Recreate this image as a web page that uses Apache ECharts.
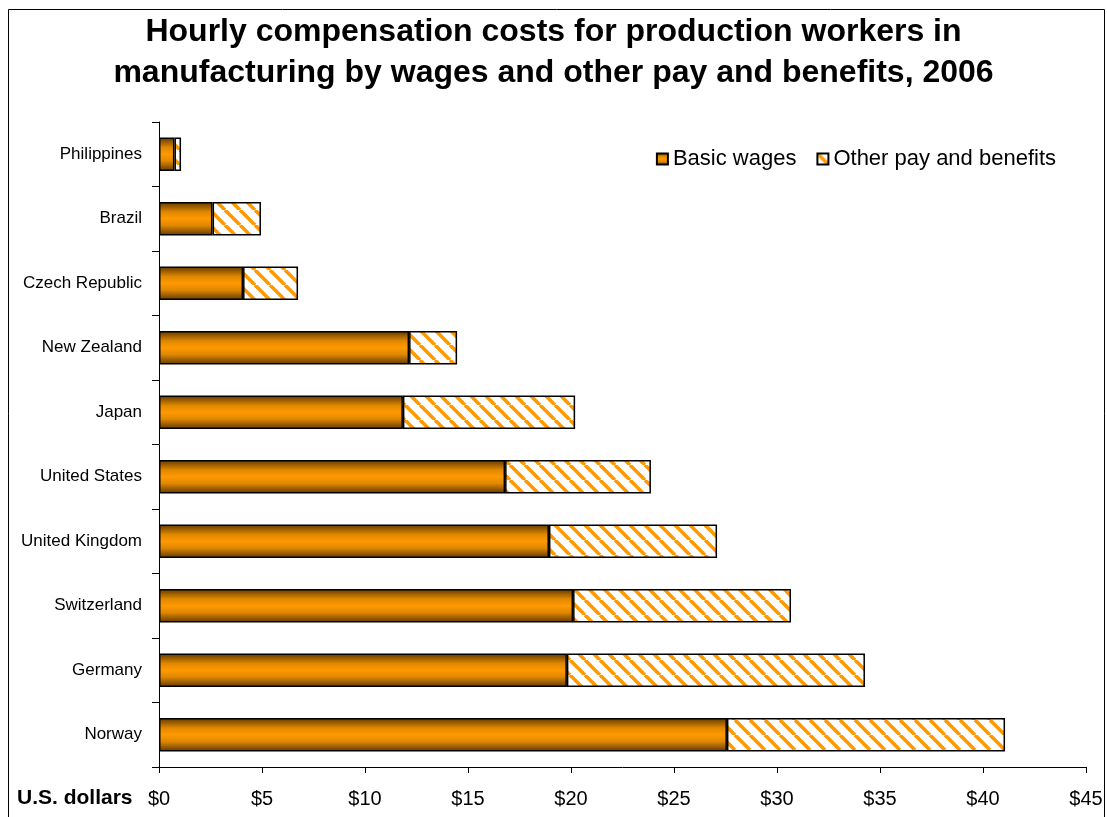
<!DOCTYPE html>
<html>
<head>
<meta charset="utf-8">
<script src="https://cdn.jsdelivr.net/npm/echarts@6/dist/echarts.min.js"></script>
<style>
  html, body { margin: 0; padding: 0; background: #fff; }
  #chart { width: 1107px; height: 817px; }
</style>
</head>
<body>
<div id="chart"></div>
<script>
// data (US$ per hour, 2006)
const countries = ['Philippines', 'Brazil', 'Czech Republic', 'New Zealand', 'Japan',
  'United States', 'United Kingdom', 'Switzerland', 'Germany', 'Norway']
const basicWages = [0.75, 2.6, 4.08, 12.14, 11.84, 16.8, 18.93, 20.1, 19.8, 27.57]
const otherPay = [0.32, 2.35, 2.67, 2.33, 8.36, 7.08, 8.16, 10.58, 14.47, 13.5]
const xTicks = [0, 5, 10, 15, 20, 25, 30, 35, 40, 45]

const font = 'Liberation Sans, Arial, sans-serif'

// hatch pattern for "other pay and benefits"
const makeHatch = () => {
  const size = 15
  const c = document.createElement('canvas')
  c.width = size
  c.height = size
  const ctx = c.getContext('2d')
  ctx.fillStyle = '#fff'
  ctx.fillRect(0, 0, size, size)
  ctx.strokeStyle = '#ff9900'
  ctx.lineWidth = 3.6
  for (const off of [-size, 0, size]) {
    ctx.beginPath()
    ctx.moveTo(off, 0)
    ctx.lineTo(off + size, size)
    ctx.stroke()
  }
  return c
}

const initChart = () => {
  const chartDom = document.getElementById('chart')
  const myChart = echarts.init(chartDom, null, { renderer: 'canvas' })
  const options = {
    backgroundColor: '#fff',
    animation: false,
    textStyle: { fontFamily: font },
    title: {
      text: 'Hourly compensation costs for production workers in\nmanufacturing by wages and other pay and benefits, 2006',
      left: 'center',
      top: 7,
      textStyle: {
        fontFamily: font,
        fontSize: 32,
        fontWeight: 'bold',
        color: '#000',
        lineHeight: 41
      }
    },
    legend: {
      right: 46,
      top: 143,
      icon: 'rect',
      itemWidth: 11,
      itemHeight: 11,
      itemGap: 20,
      textStyle: { fontFamily: font, fontSize: 22, color: '#000' },
      data: ['Basic wages', 'Other pay and benefits']
    },
    grid: {
      left: 159,
      right: 21,
      top: 122,
      bottom: 50,
      containLabel: false
    },
    xAxis: {
      type: 'value',
      min: xTicks[0],
      max: xTicks[xTicks.length - 1],
      interval: 5,
      axisLine: { show: true, lineStyle: { color: '#000', width: 1 } },
      axisTick: { show: true, length: 6, lineStyle: { color: '#000' } },
      splitLine: { show: false },
      axisLabel: {
        color: '#000',
        fontFamily: font,
        fontSize: 20,
        margin: 22,
        formatter: v => '$' + v
      }
    },
    yAxis: {
      type: 'category',
      inverse: true,
      data: countries,
      axisLine: { show: true, lineStyle: { color: '#000', width: 1 } },
      axisTick: { show: true, length: 7, lineStyle: { color: '#000' } },
      axisLabel: { color: '#000', fontFamily: font, fontSize: 17, margin: 17 }
    },
    graphic: [
      {
        type: 'rect',
        shape: { x: 8.5, y: 9.5, width: 1096, height: 900 },
        style: { fill: 'none', stroke: '#000', lineWidth: 1 },
        silent: true
      },
      {
        type: 'text',
        left: 17,
        top: 788,
        style: { text: 'U.S. dollars', fontFamily: font, fontSize: 21, fontWeight: 'bold', fill: '#000' }
      }
    ],
    series: [
      {
        name: 'Basic wages',
        type: 'bar',
        stack: 'total',
        barWidth: '52%',
        data: basicWages,
        itemStyle: {
          borderColor: '#000',
          borderWidth: 1.5,
          color: new echarts.graphic.LinearGradient(0, 0, 0, 1, [
            { offset: 0, color: '#603800' },
            { offset: 0.3, color: '#e08800' },
            { offset: 0.5, color: '#ff9900' },
            { offset: 0.7, color: '#e08800' },
            { offset: 1, color: '#603800' }
          ])
        }
      },
      {
        name: 'Other pay and benefits',
        type: 'bar',
        stack: 'total',
        barWidth: '52%',
        data: otherPay,
        itemStyle: {
          borderColor: '#000',
          borderWidth: 1.5,
          color: { image: makeHatch(), repeat: 'repeat' }
        }
      }
    ]
  }
  myChart.setOption(options)
  return myChart
}
initChart()
</script>
</body>
</html>
